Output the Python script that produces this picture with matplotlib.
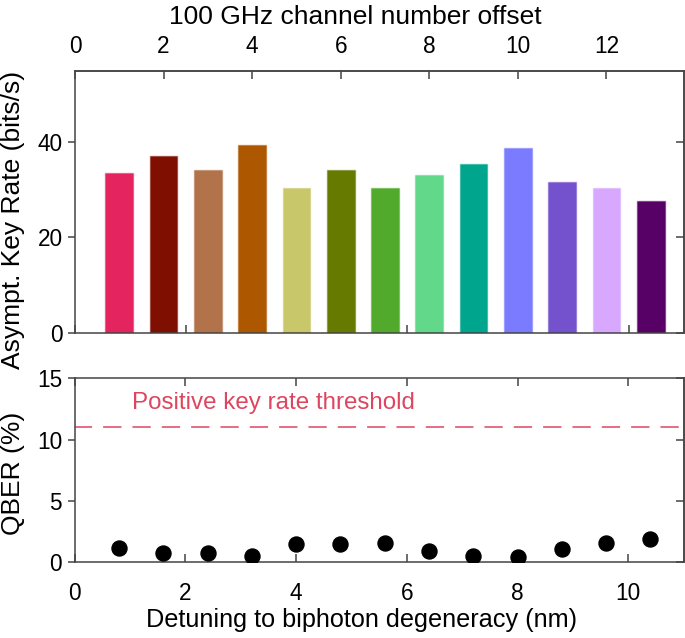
import matplotlib
matplotlib.use("Agg")
import matplotlib.pyplot as plt
import matplotlib.colors as mcolors
import numpy as np

plt.rcParams["font.family"] = ["Liberation Sans", "DejaVu Sans"]

# channel offsets (100 GHz grid) and measured values
channels = np.arange(1, 14)
nm_per_channel = 0.8
key_rate = [33.5, 37.0, 34.2, 39.5, 30.3, 34.2, 30.4, 33.2, 35.4, 38.7, 31.7, 30.4, 27.6]
qber = [1.14, 0.76, 0.78, 0.54, 1.49, 1.47, 1.55, 0.95, 0.54, 0.43, 1.08, 1.55, 1.90]
threshold = 11.0
bar_colors = ["#E3245E", "#7F0F00", "#B2734B", "#AD5700", "#C8C86A", "#667A00",
              "#52AA2D", "#62D98A", "#00A58E", "#7B7BFF", "#7452CD", "#D8A8FF",
              "#570066"]

detuning = channels * nm_per_channel
spine_c = "#444444"
red = "#DC4660"
tick_fs = 16.3
label_fs = 19.0

fig = plt.figure(figsize=(6.85, 6.38), dpi=100)
ax1 = fig.add_axes([0.1095, 0.4785, 0.889, 0.4107])
ax2 = fig.add_axes([0.109, 0.1187, 0.889, 0.2884])

# --- top panel: key rate bars
edges = [mcolors.to_rgba(c, 0.45) for c in bar_colors]
ax1.bar(detuning, key_rate, width=0.5, color=bar_colors, edgecolor=edges, linewidth=1.0)
ax1.set_axisbelow(True)
ax1.set_xlim(0, 11)
ax1.set_ylim(0, 55)
ax1.set_yticks([0, 20, 40])
ax1.set_xticks(np.arange(0, 11, 2))
ax1.tick_params(axis="x", direction="in", length=6, width=1.1, color=spine_c,
                labelbottom=False)
ax1.tick_params(axis="y", which="both", left=True, right=False, direction="out",
                length=5.4, width=1.1, color=spine_c, labelsize=tick_fs, pad=3.6)
ax1.set_ylabel("Asympt. Key Rate (bits/s)", fontsize=label_fs)
ax1.yaxis.set_label_coords(-0.082, 0.43)

# right side inward ticks
ry = ax1.secondary_yaxis("right")
ry.set_yticks([0, 20, 40])
ry.tick_params(direction="in", length=6, width=1.1, color=spine_c, labelright=False)

top = ax1.secondary_xaxis("top", functions=(lambda x: x / nm_per_channel,
                                            lambda c: c * nm_per_channel))
top.set_xticks(np.arange(0, 13, 2))
top.tick_params(direction="in", length=6, width=1.1, color=spine_c,
                labelsize=tick_fs, pad=9.0)
top.set_xlabel("100 GHz channel number offset", fontsize=label_fs, labelpad=8)
top.xaxis.label.set_x(0.46)

# --- bottom panel: QBER
ax2.plot(detuning, qber, "o", color="black", markersize=10.8, zorder=3)
ax2.axhline(threshold, color=red, linestyle=(0.8, (12, 7.2)), linewidth=1.1)
ax2.text(1.03, 13.0, "Positive key rate threshold", color=red,
         fontsize=17.4, va="center", ha="left")
ax2.set_xlim(0, 11)
ax2.set_ylim(0, 15)
ax2.set_xticks(np.arange(0, 11, 2))
ax2.set_yticks([0, 5, 10, 15])
ax2.tick_params(axis="x", which="both", top=True, bottom=True, direction="in",
                length=6, width=1.1, color=spine_c, labelsize=tick_fs, pad=14.5)
ax2.tick_params(axis="y", direction="out", length=5.4, width=1.1, color=spine_c,
                labelsize=tick_fs, pad=3.6)
ry2 = ax2.secondary_yaxis("right")
ry2.set_yticks([0, 5, 10, 15])
ry2.tick_params(direction="in", length=6, width=1.1, color=spine_c, labelright=False)
ax2.set_xlabel("Detuning to biphoton degeneracy (nm)", fontsize=18.2, labelpad=2)
ax2.xaxis.label.set_x(0.471)
ax2.set_ylabel("QBER (%)", fontsize=label_fs)
ax2.yaxis.set_label_coords(-0.082, 0.483)

for a in (ax1, ax2, top, ry, ry2):
    for s in a.spines.values():
        s.set_color(spine_c)
        s.set_linewidth(1.1)

fig.savefig("out.png", dpi=100)
